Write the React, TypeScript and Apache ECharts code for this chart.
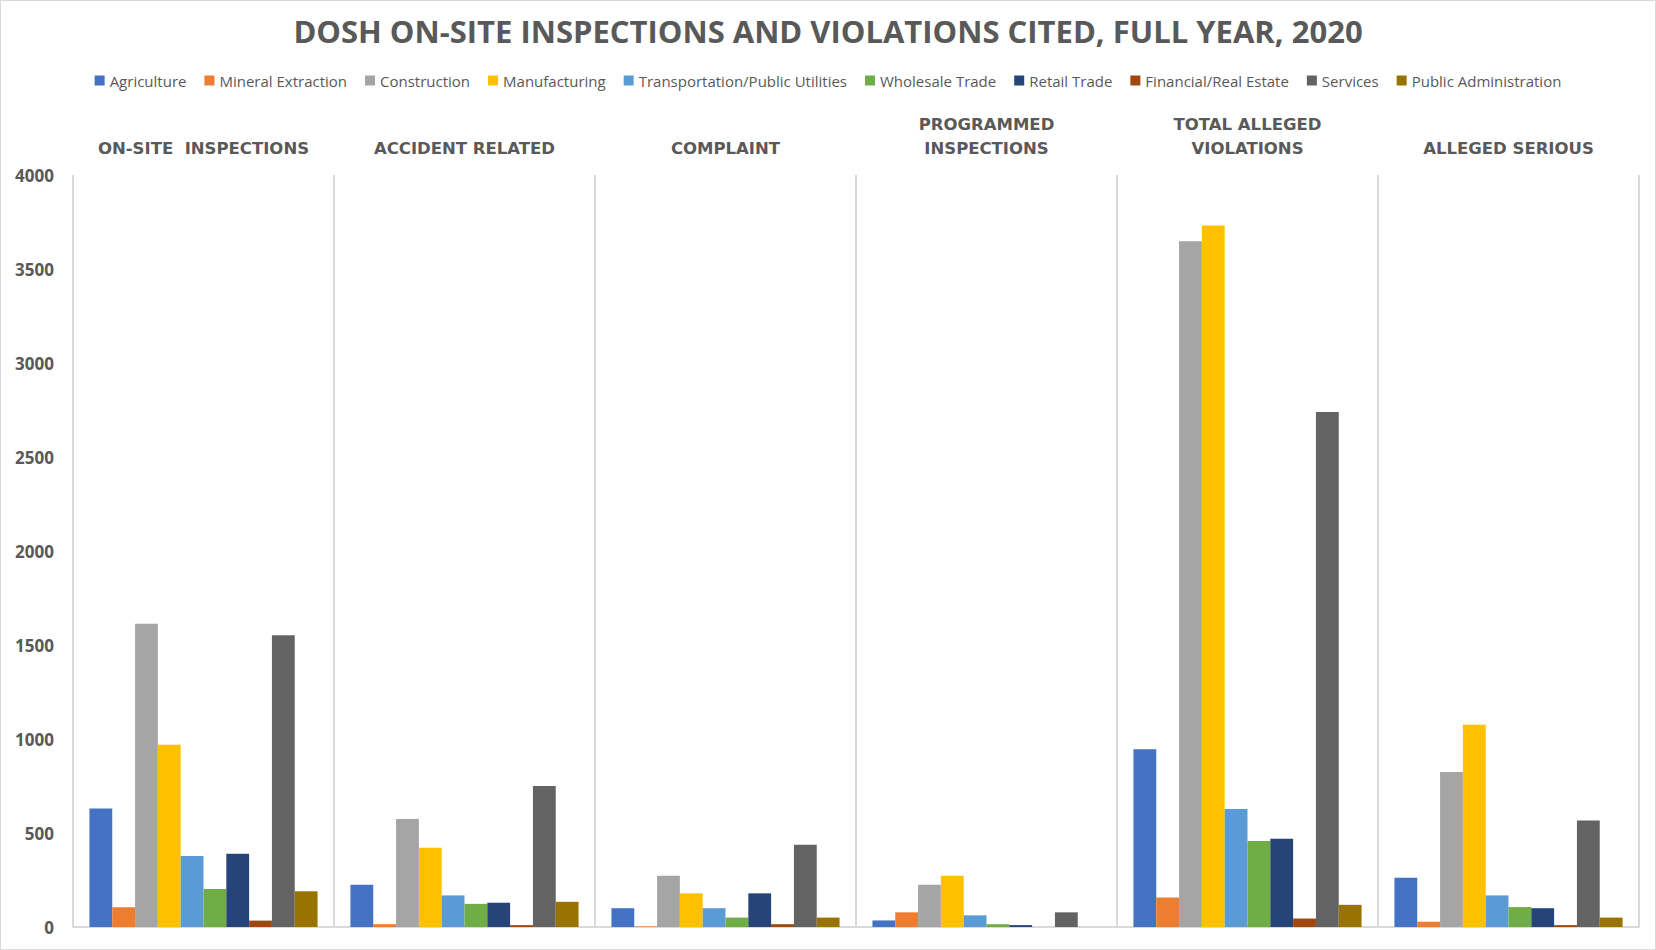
import React, { useEffect, useRef } from "react";
import * as echarts from "echarts";

const categories = [
  "ON-SITE  INSPECTIONS",
  "ACCIDENT RELATED",
  "COMPLAINT",
  "PROGRAMMED\nINSPECTIONS",
  "TOTAL ALLEGED\nVIOLATIONS",
  "ALLEGED SERIOUS",
];

const agriculture = [630, 225, 100, 35, 945, 262];
const mineralExtraction = [105, 15, 3, 78, 157, 28];
const construction = [1613, 575, 272, 225, 3647, 824];
const manufacturing = [970, 421, 179, 272, 3731, 1076];
const transportation = [378, 168, 100, 62, 627, 168];
const wholesaleTrade = [202, 123, 50, 15, 458, 106];
const retailTrade = [389, 129, 179, 10, 469, 100];
const financialRealEstate = [34, 10, 15, 0, 45, 10];
const services = [1552, 750, 437, 78, 2739, 566];
const publicAdministration = [190, 134, 50, 0, 118, 50];

const seriesDefs = [
  { name: "Agriculture", data: agriculture, color: "#4472C4" },
  { name: "Mineral Extraction", data: mineralExtraction, color: "#ED7D31" },
  { name: "Construction", data: construction, color: "#A5A5A5" },
  { name: "Manufacturing", data: manufacturing, color: "#FFC000" },
  { name: "Transportation/Public Utilities", data: transportation, color: "#5B9BD5" },
  { name: "Wholesale Trade", data: wholesaleTrade, color: "#70AD47" },
  { name: "Retail Trade", data: retailTrade, color: "#264478" },
  { name: "Financial/Real Estate", data: financialRealEstate, color: "#9E480E" },
  { name: "Services", data: services, color: "#636363" },
  { name: "Public Administration", data: publicAdministration, color: "#997300" },
];

const TEXT = "#595959";
const FONT = "'Open Sans', sans-serif";
const WIDE_FONT = "'DejaVu Sans', sans-serif";

export default function App() {
  const ref = useRef<HTMLDivElement>(null);
  useEffect(() => {
    if (!ref.current) return;
    const chart = echarts.init(ref.current, undefined, { renderer: "svg" });
    chart.setOption({
      animation: false,
      backgroundColor: "#ffffff",
      title: {
        text: "DOSH ON-SITE INSPECTIONS AND VIOLATIONS CITED, FULL YEAR, 2020",
        left: "center",
        top: 9,
        textStyle: { color: TEXT, fontFamily: FONT, fontWeight: "bold", fontSize: 31 },
      },
      legend: {
        top: 67,
        left: "center",
        itemWidth: 10,
        itemHeight: 10,
        itemGap: 18,
        icon: "rect",
        textStyle: { color: TEXT, fontFamily: FONT, fontSize: 15 },
        data: seriesDefs.map((s) => s.name),
      },
      grid: { left: 72, right: 16, top: 174, bottom: 22, containLabel: false },
      xAxis: [
        {
          type: "category",
          data: categories,
          position: "bottom",
          axisLine: { show: true, lineStyle: { color: "#d9d9d9", width: 2 } },
          axisTick: { show: false },
          axisLabel: { show: false },
          splitLine: { show: true, lineStyle: { color: "#d9d9d9", width: 2 } },
        },
        {
          type: "category",
          data: categories,
          position: "top",
          axisLine: { show: false },
          axisTick: { show: false },
          splitLine: { show: false },
          axisLabel: {
            show: true,
            interval: 0,
            margin: 15,
            color: TEXT,
            fontFamily: WIDE_FONT,
            fontWeight: "bold",
            fontSize: 16.5,
            lineHeight: 24,
            align: "center",
          },
        },
      ],
      yAxis: {
        type: "value",
        min: 0,
        max: 4000,
        interval: 500,
        axisLine: { show: false },
        axisTick: { show: false },
        splitLine: { show: false },
        axisLabel: {
          margin: 19,
          color: TEXT,
          fontFamily: FONT,
          fontWeight: "bold",
          fontSize: 17,
          formatter: (v: number) => String(v),
        },
      },
      series: seriesDefs.map((s) => ({
        name: s.name,
        type: "bar",
        xAxisIndex: 0,
        data: s.data,
        barGap: "0%",
        barCategoryGap: "12.6%",
        itemStyle: { color: s.color },
      })),
    });
    return () => chart.dispose();
  }, []);
  return (
    <div
      ref={ref}
      style={{
        position: "fixed",
        left: 0,
        top: 0,
        width: 1656,
        height: 950,
        boxSizing: "border-box",
        border: "1px solid #d9d9d9",
        background: "#fff",
      }}
    />
  );
}
